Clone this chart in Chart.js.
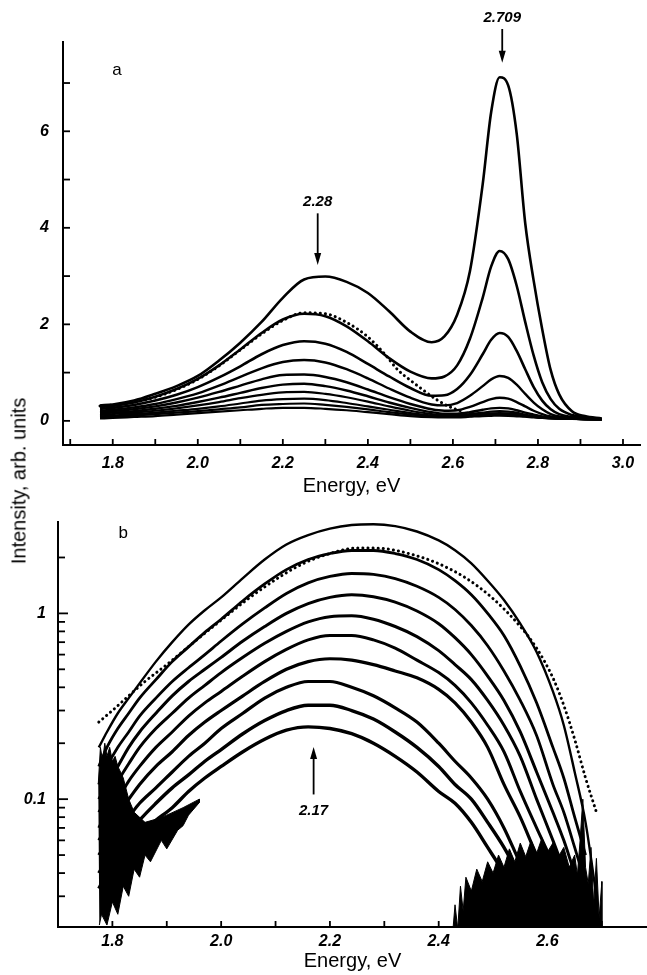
<!DOCTYPE html>
<html><head><meta charset="utf-8">
<script src="https://cdn.jsdelivr.net/npm/chart.js@4.4.1/dist/chart.umd.min.js"></script>
<style>
html,body{margin:0;padding:0;background:#fff;}
body{width:647px;height:975px;position:relative;overflow:hidden;font-family:"Liberation Sans",Arial,sans-serif;}
#wa{position:absolute;left:0;top:0;width:647px;height:500px;}
#wb{position:absolute;left:0;top:500px;width:647px;height:475px;}
#ytitle{position:absolute;left:19px;top:481px;transform:translate(-50%,-50%) rotate(-90deg);font-size:20px;white-space:nowrap;color:#000;}
</style></head><body>
<div id="wa"><canvas id="ca" width="647" height="500"></canvas></div>
<div id="wb"><canvas id="cb" width="647" height="475"></canvas></div>
<div id="ytitle">Intensity, arb. units</div>
<script>
// ---------- Panel a (linear) ----------
const energyA=[1.77,1.80,1.85,1.90,1.95,2.00,2.05,2.10,2.15,2.20,2.25,2.30,2.35,2.40,2.45,2.50,2.55,2.58,2.61,2.64,2.67,2.69,2.71,2.73,2.75,2.77,2.79,2.81,2.83,2.85,2.88,2.91,2.95];
const curveA1=[0.32,0.34,0.42,0.56,0.72,0.93,1.25,1.62,2.05,2.55,2.93,2.99,2.88,2.65,2.27,1.85,1.63,1.75,2.2,3.1,4.9,6.4,7.12,6.95,5.95,4.1,2.9,1.9,1.05,0.55,0.2,0.1,0.05];
const curveA2=[0.29,0.31,0.38,0.50,0.66,0.87,1.15,1.48,1.82,2.10,2.22,2.17,1.96,1.65,1.30,1.02,0.88,0.92,1.15,1.70,2.55,3.20,3.52,3.35,2.80,2.05,1.35,0.80,0.45,0.25,0.12,0.07,0.04];
const curveA3=[0.25,0.27,0.33,0.42,0.54,0.70,0.90,1.13,1.38,1.57,1.65,1.60,1.43,1.18,0.92,0.68,0.52,0.53,0.66,0.95,1.38,1.68,1.82,1.74,1.45,1.07,0.70,0.42,0.24,0.14,0.08,0.05,0.04];
const curveA4=[0.21,0.23,0.28,0.35,0.45,0.57,0.73,0.91,1.09,1.22,1.26,1.21,1.07,0.88,0.67,0.48,0.34,0.32,0.37,0.52,0.72,0.86,0.93,0.89,0.75,0.56,0.38,0.24,0.14,0.09,0.06,0.045,0.035];
const curveA5=[0.18,0.20,0.24,0.30,0.38,0.48,0.60,0.73,0.86,0.95,0.96,0.91,0.80,0.65,0.49,0.35,0.24,0.21,0.22,0.29,0.39,0.45,0.48,0.46,0.39,0.30,0.21,0.14,0.09,0.065,0.05,0.04,0.03];
const curveA6=[0.15,0.17,0.20,0.25,0.31,0.39,0.48,0.58,0.68,0.75,0.77,0.72,0.63,0.51,0.38,0.27,0.18,0.15,0.15,0.18,0.23,0.26,0.27,0.26,0.22,0.17,0.13,0.09,0.07,0.055,0.045,0.035,0.03];
const curveA7=[0.12,0.14,0.17,0.21,0.26,0.32,0.39,0.47,0.54,0.59,0.60,0.56,0.49,0.40,0.30,0.21,0.14,0.12,0.12,0.14,0.17,0.19,0.20,0.19,0.17,0.13,0.10,0.075,0.06,0.05,0.04,0.035,0.03];
const curveA8=[0.09,0.11,0.14,0.17,0.21,0.25,0.30,0.36,0.42,0.45,0.46,0.43,0.37,0.30,0.23,0.16,0.11,0.10,0.10,0.12,0.14,0.155,0.16,0.155,0.14,0.11,0.09,0.07,0.055,0.045,0.04,0.035,0.03];
const curveA9=[0.07,0.09,0.11,0.14,0.17,0.20,0.24,0.28,0.33,0.35,0.36,0.33,0.29,0.24,0.18,0.13,0.09,0.08,0.08,0.10,0.115,0.125,0.13,0.125,0.115,0.095,0.08,0.065,0.05,0.045,0.04,0.035,0.03];
const curveA10=[0.05,0.06,0.08,0.10,0.13,0.16,0.19,0.22,0.25,0.27,0.27,0.25,0.22,0.18,0.14,0.10,0.075,0.07,0.07,0.085,0.10,0.105,0.11,0.105,0.095,0.085,0.07,0.06,0.05,0.045,0.04,0.035,0.03];
const fitEnergyA=[1.77,1.80,1.85,1.90,1.95,2.00,2.05,2.10,2.15,2.20,2.25,2.30,2.35,2.40,2.44,2.47,2.50,2.53,2.56,2.59,2.62];
const fitA=[0.31,0.33,0.39,0.49,0.65,0.86,1.14,1.47,1.80,2.08,2.24,2.22,2.04,1.74,1.38,1.06,0.84,0.64,0.45,0.30,0.20];
const xTickLabelsA=['1.8','2.0','2.2','2.4','2.6','2.8','3.0'];
const yTickLabelsA=['0','2','4','6'];

// ---------- Panel b (log) ----------
const energyB=[1.775,1.79,1.81,1.83,1.85,1.88,1.91,1.94,1.97,2.00,2.04,2.08,2.12,2.16,2.20,2.24,2.28,2.32,2.36,2.40,2.43,2.46,2.49,2.52,2.55,2.58,2.61,2.63,2.65,2.67,2.69];
const curveB1=[0.19,0.23,0.29,0.35,0.42,0.55,0.70,0.87,1.04,1.22,1.55,1.95,2.35,2.64,2.86,2.99,3.02,2.95,2.76,2.47,2.19,1.86,1.50,1.18,0.88,0.62,0.38,0.25,0.14,0.075,0.03];
const curveB2=[0.15,0.19,0.24,0.29,0.35,0.44,0.55,0.66,0.79,0.93,1.17,1.44,1.72,1.95,2.10,2.18,2.18,2.10,1.95,1.72,1.50,1.26,1.00,0.76,0.52,0.33,0.19,0.13,0.08,0.05,null];
const curveB3=[0.12,0.15,0.19,0.23,0.28,0.35,0.43,0.51,0.60,0.71,0.88,1.07,1.28,1.46,1.58,1.64,1.62,1.54,1.40,1.22,1.05,0.86,0.67,0.49,0.34,0.22,0.12,0.085,0.055,0.035,null];
const curveB4=[0.10,0.12,0.15,0.19,0.23,0.29,0.36,0.43,0.50,0.58,0.71,0.85,1.00,1.13,1.22,1.26,1.23,1.15,1.03,0.88,0.74,0.60,0.46,0.34,0.23,0.14,0.085,0.06,0.04,0.028,null];
const curveB5=[0.085,0.10,0.125,0.155,0.19,0.24,0.29,0.35,0.41,0.48,0.58,0.69,0.80,0.90,0.96,0.97,0.93,0.85,0.75,0.63,0.53,0.44,0.34,0.25,0.17,0.10,0.06,0.042,0.03,null,null];
const curveB6=[0.07,0.085,0.10,0.125,0.15,0.19,0.23,0.28,0.33,0.38,0.46,0.55,0.64,0.72,0.76,0.76,0.72,0.65,0.56,0.48,0.41,0.33,0.25,0.18,0.11,0.07,0.045,0.032,0.024,null,null];
const curveB7=[0.06,0.07,0.085,0.10,0.12,0.15,0.18,0.22,0.26,0.30,0.36,0.43,0.50,0.55,0.57,0.56,0.53,0.49,0.45,0.39,0.33,0.26,0.19,0.12,0.08,0.05,0.033,0.025,null,null,null];
const curveB8=[0.05,0.058,0.068,0.08,0.095,0.115,0.14,0.17,0.20,0.24,0.29,0.35,0.40,0.43,0.43,0.40,0.36,0.31,0.26,0.20,0.16,0.13,0.10,0.07,0.045,0.03,0.022,null,null,null,null];
const curveB9=[0.04,0.047,0.055,0.065,0.077,0.095,0.115,0.135,0.16,0.185,0.225,0.265,0.30,0.32,0.32,0.30,0.27,0.23,0.19,0.15,0.12,0.10,0.075,0.055,0.038,0.026,null,null,null,null,null];
const curveB10=[0.033,0.04,0.047,0.055,0.065,0.077,0.09,0.11,0.13,0.15,0.18,0.21,0.235,0.245,0.24,0.225,0.20,0.17,0.14,0.11,0.095,0.075,0.055,0.04,0.028,0.02,null,null,null,null,null];
const fitEnergyB=[1.775,1.80,1.83,1.86,1.90,1.95,2.00,2.05,2.10,2.15,2.20,2.25,2.30,2.35,2.40,2.45,2.50,2.55,2.58,2.61,2.63,2.65,2.67,2.69];
const fitB=[0.26,0.30,0.36,0.43,0.53,0.70,0.92,1.20,1.52,1.85,2.10,2.25,2.23,2.08,1.85,1.55,1.20,0.85,0.65,0.45,0.32,0.21,0.13,0.085];
// noisy low-signal regions (outline)
const noiseLeftE=[1.774,1.778,1.782,1.786,1.790,1.795,1.80,1.805,1.81,1.815,1.82,1.83,1.84,1.86,1.88,1.90,1.93,1.96,1.96,1.94,1.93,1.92,1.90,1.89,1.87,1.86,1.85,1.84,1.83,1.82,1.81,1.80,1.79,1.78,1.776];
const noiseLeftI=[0.12,0.19,0.16,0.2,0.17,0.19,0.16,0.17,0.15,0.14,0.13,0.1,0.085,0.075,0.078,0.082,0.09,0.1,0.096,0.082,0.072,0.068,0.054,0.06,0.046,0.05,0.038,0.042,0.03,0.034,0.024,0.028,0.021,0.024,0.021];
const noiseRightE=[2.425,2.43,2.435,2.44,2.445,2.45,2.46,2.47,2.48,2.49,2.50,2.51,2.52,2.53,2.54,2.55,2.56,2.57,2.58,2.59,2.60,2.61,2.62,2.63,2.64,2.65,2.655,2.66,2.665,2.67,2.675,2.68,2.685,2.69,2.695,2.70,2.70,2.425];
const noiseRightI=[0.018,0.027,0.02,0.034,0.025,0.038,0.032,0.042,0.036,0.046,0.04,0.05,0.043,0.054,0.046,0.058,0.049,0.06,0.051,0.062,0.052,0.058,0.049,0.055,0.043,0.05,0.039,0.06,0.1,0.043,0.035,0.055,0.027,0.048,0.023,0.036,0.01,0.01];
const xTickLabelsB=['1.8','2.0','2.2','2.4','2.6'];
const yTickLabelsB=['0.1','1'];

// annotations (data coordinates)
const notesA=[
  {text:'2.709',x:2.716,y:8.35,arrow:[8.12,7.42]},
  {text:'2.28',x:2.282,y:4.54,arrow:[4.30,3.23]},
  {text:'a',x:1.81,y:7.27,plain:true}
];
const notesB=[
  {text:'2.17',x:2.17,y:0.087,arrow:[0.106,0.191]},
  {text:'b',x:1.82,y:2.69,plain:true}
];

Chart.defaults.font.family='"Liberation Sans", Arial, sans-serif';
Chart.defaults.color='#000';

function pts(xs,ys){const o=[];xs.forEach((x,i)=>{if(ys[i]!==null&&ys[i]!==undefined)o.push({x:x,y:ys[i]});});return o;}
function solid(data,w){return {data:data,borderColor:'#000',borderWidth:w,pointRadius:0,fill:false,cubicInterpolationMode:'monotone'};}
function dotted(data){return {data:data,borderColor:'#000',borderWidth:3,borderDash:[0.1,5],borderCapStyle:'round',pointRadius:0,fill:false,cubicInterpolationMode:'monotone'};}
function blob(data){return {data:data,borderColor:'#000',borderWidth:1,backgroundColor:'#000',pointRadius:0,fill:'shape',tension:0};}

const innerTicks={
  id:'innerTicks',
  afterDraw(chart,args,o){
    const ctx=chart.ctx,a=chart.chartArea,xs=chart.scales.x,ys=chart.scales.y;
    ctx.save();ctx.strokeStyle='#000';ctx.lineWidth=1.8;
    xs.ticks.forEach(t=>{const p=xs.getPixelForValue(t.value);if(p<a.left+2||p>a.right-2)return;ctx.beginPath();ctx.moveTo(p,a.bottom);ctx.lineTo(p,a.bottom-o.xLen);ctx.stroke();});
    ys.ticks.forEach(t=>{
      const v=t.value;
      if(o.log){const e=Math.floor(Math.log10(v)+1e-9);const m=v/Math.pow(10,e);if(Math.abs(m-Math.round(m))>1e-6)return;}
      const p=ys.getPixelForValue(v);if(p<a.top+6||p>a.bottom-2)return;
      const major=o.log?Math.abs(v/Math.pow(10,Math.round(Math.log10(v)))-1)<1e-6:true;
      ctx.beginPath();ctx.moveTo(a.left,p);ctx.lineTo(a.left+(major?o.yLen:o.yMinor),p);ctx.stroke();
    });
    ctx.restore();
  }
};
const notes={
  id:'notes',
  afterDraw(chart,args,o){
    const ctx=chart.ctx,xs=chart.scales.x,ys=chart.scales.y;
    ctx.save();ctx.fillStyle='#000';ctx.strokeStyle='#000';
    (o.items||[]).forEach(it=>{
      const px=xs.getPixelForValue(it.x);
      if(it.arrow){
        const y1=ys.getPixelForValue(it.arrow[0]),y2=ys.getPixelForValue(it.arrow[1]);
        const dir=y2>y1?1:-1;
        ctx.lineWidth=1.8;ctx.beginPath();ctx.moveTo(px,y1);ctx.lineTo(px,y2-dir*8);ctx.stroke();
        ctx.beginPath();ctx.moveTo(px,y2);ctx.lineTo(px-3.5,y2-dir*12);ctx.lineTo(px+3.5,y2-dir*12);ctx.closePath();ctx.fill();
      }
      ctx.font=it.plain?'17px "Liberation Sans", Arial, sans-serif':'italic bold 15px "Liberation Sans", Arial, sans-serif';
      ctx.textAlign='center';ctx.textBaseline='middle';
      ctx.fillText(it.text,px,ys.getPixelForValue(it.y));
    });
    ctx.restore();
  }
};

const tickFont={family:'"Liberation Sans", Arial, sans-serif',size:16,style:'italic',weight:'bold'};
const titleFont={family:'"Liberation Sans", Arial, sans-serif',size:20};

new Chart(document.getElementById('ca'),{
  type:'line',
  data:{datasets:[
    solid(pts(energyA,curveA1),2.6),solid(pts(energyA,curveA2),2.6),solid(pts(energyA,curveA3),2.6),
    solid(pts(energyA,curveA4),2.4),solid(pts(energyA,curveA5),2.4),solid(pts(energyA,curveA6),2.4),
    solid(pts(energyA,curveA7),2.2),solid(pts(energyA,curveA8),2.2),solid(pts(energyA,curveA9),2.2),
    solid(pts(energyA,curveA10),2.2),dotted(pts(fitEnergyA,fitA))
  ]},
  options:{
    responsive:false,animation:false,devicePixelRatio:1,
    layout:{padding:{top:42,right:7,left:0,bottom:0}},
    plugins:{legend:{display:false},tooltip:{enabled:false},
      innerTicks:{xLen:6,yLen:7,yMinor:7,log:false},notes:{items:notesA}},
    scales:{
      x:{type:'linear',min:1.683,max:3.04,
        afterFit:s=>{s.height=55;},
        grid:{display:false,drawTicks:false},border:{display:true,color:'#000',width:2},
        ticks:{stepSize:0.1,includeBounds:false,autoSkip:false,maxRotation:0,padding:9,font:tickFont,
          callback:v=>{const s=Number(v).toFixed(1);return xTickLabelsA.includes(s)?s:'';}},
        title:{display:true,text:'Energy, eV',font:titleFont,padding:{top:0,bottom:2}}},
      y:{type:'linear',min:-0.5,max:7.85,
        afterFit:s=>{s.width=63;},
        grid:{display:false,drawTicks:false},border:{display:true,color:'#000',width:2},
        ticks:{stepSize:1,includeBounds:false,autoSkip:false,padding:14,font:tickFont,
          callback:v=>{const s=String(Math.round(v));return yTickLabelsA.includes(s)&&Math.abs(v-Math.round(v))<1e-6?s:'';}}}
    }
  },
  plugins:[innerTicks,notes]
});

new Chart(document.getElementById('cb'),{
  type:'line',
  data:{datasets:[
    blob(pts(noiseLeftE,noiseLeftI)),blob(pts(noiseRightE,noiseRightI)),
    solid(pts(energyB,curveB1),2.4),solid(pts(energyB,curveB2),2.8),solid(pts(energyB,curveB3),2.8),
    solid(pts(energyB,curveB4),3),solid(pts(energyB,curveB5),3),solid(pts(energyB,curveB6),3),
    solid(pts(energyB,curveB7),3.2),solid(pts(energyB,curveB8),3.2),solid(pts(energyB,curveB9),3.4),
    solid(pts(energyB,curveB10),3.4),dotted(pts(fitEnergyB,fitB))
  ]},
  options:{
    responsive:false,animation:false,devicePixelRatio:1,
    layout:{padding:{top:13,right:0,left:0,bottom:0}},
    plugins:{legend:{display:false},tooltip:{enabled:false},
      innerTicks:{xLen:6,yLen:10,yMinor:7,log:true},notes:{items:notesB}},
    scales:{
      x:{type:'linear',min:1.70,max:2.783,
        afterFit:s=>{s.height=48;},
        grid:{display:false,drawTicks:false},border:{display:true,color:'#000',width:2},
        ticks:{stepSize:0.1,includeBounds:false,autoSkip:false,maxRotation:0,padding:5,font:tickFont,
          callback:v=>{const s=Number(v).toFixed(1);return xTickLabelsB.includes(s)?s:'';}},
        title:{display:true,text:'Energy, eV',font:titleFont,padding:{top:0,bottom:2}}},
      y:{type:'logarithmic',min:0.0205,max:3.12,
        afterFit:s=>{s.width=58;},
        grid:{display:false,drawTicks:false},border:{display:true,color:'#000',width:2},
        ticks:{autoSkip:false,padding:12,font:tickFont,
          callback:v=>{const s=String(+Number(v).toPrecision(3));return yTickLabelsB.includes(s)?s:'';}}}
    }
  },
  plugins:[innerTicks,notes]
});
</script>
</body></html>
